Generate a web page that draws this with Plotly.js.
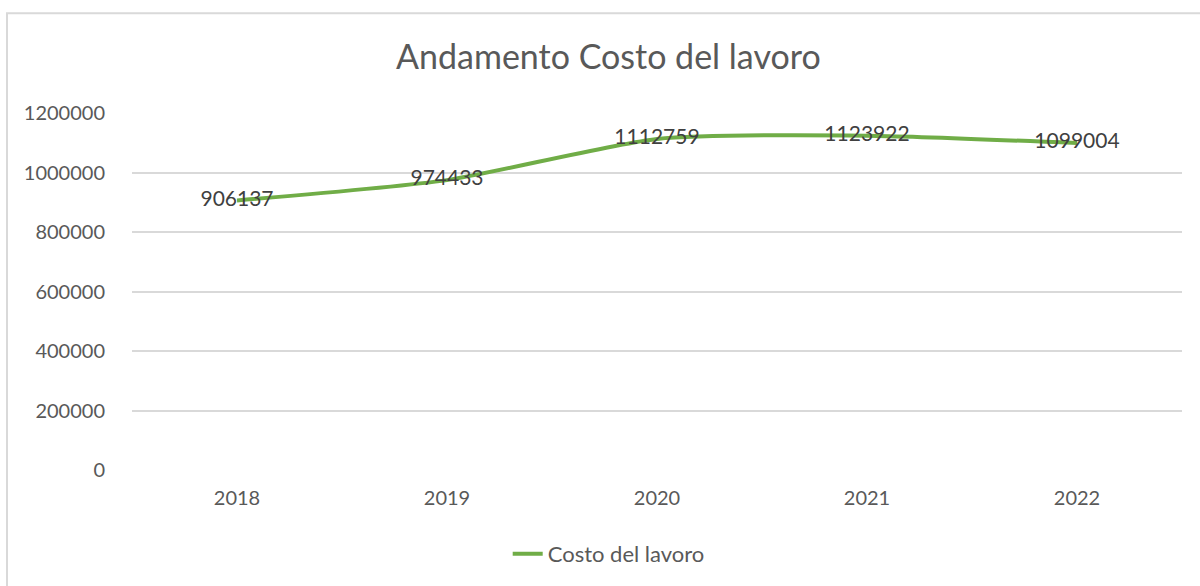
<!DOCTYPE html>
<html><head><meta charset="utf-8">
<script src="https://cdn.plot.ly/plotly-3.0.1.min.js"></script>
<style>html,body{margin:0;padding:0;background:#fff}#chart{width:1200px;height:586px}</style>
</head><body><div id="chart"></div>
<script>
const years = ['2018','2019','2020','2021','2022'];
const costs = [906137, 974433, 1112759, 1123922, 1099004];
const seriesName = 'Costo del lavoro';
const chartTitle = 'Andamento Costo del lavoro';
const yTicks = [0, 200000, 400000, 600000, 800000, 1000000, 1200000];

const fontFam = 'Lato, "Open Sans", sans-serif';
const trace = {
  x: years, y: costs, name: seriesName, type: 'scatter', mode: 'lines+text',
  text: costs.map(String), textposition: 'middle center',
  textfont: {family: fontFam, size: 21, color: '#404040'},
  line: {color: '#70ad47', width: 4, shape: 'spline', smoothing: 0.6},
  cliponaxis: false
};
const layout = {
  width: 1200, height: 586,
  margin: {l: 132, r: 18, t: 113, b: 115},
  paper_bgcolor: '#fff', plot_bgcolor: '#fff',
  font: {family: fontFam, color: '#595959', size: 20},
  title: {text: chartTitle, font: {family: fontFam, size: 34, color: '#595959'},
          x: 0.507, xanchor: 'center', y: 1 - 57/586, yanchor: 'middle', yref: 'container'},
  xaxis: {type: 'category', range: [-0.5, 4.5], showgrid: false, zeroline: false,
          showline: false, ticks: 'outside', ticklen: 10, tickcolor: 'rgba(0,0,0,0)',
          tickfont: {size: 20, color: '#595959'}, fixedrange: true},
  yaxis: {range: [0, 1200000], tickvals: yTicks, ticktext: yTicks.map(String),
          showgrid: true, gridcolor: '#d9d9d9', gridwidth: 2, zeroline: false,
          showline: false, ticks: 'outside', ticklen: 22, tickcolor: 'rgba(0,0,0,0)',
          tickfont: {size: 20, color: '#595959'}, fixedrange: true},
  showlegend: true,
  legend: {orientation: 'h', x: 0.454, xanchor: 'center', y: -0.232, yanchor: 'middle',
           font: {size: 22, color: '#595959'}},
  shapes: [{type: 'rect', xref: 'paper', yref: 'paper',
            x0: (7-132)/1050, x1: (1205-132)/1050, y0: (471-600)/358, y1: (471-13)/358,
            line: {color: '#d9d9d9', width: 2}, fillcolor: 'rgba(0,0,0,0)', layer: 'below'}]
};
Plotly.newPlot('chart', [trace], layout, {displayModeBar: false, staticPlot: true});
</script></body></html>
